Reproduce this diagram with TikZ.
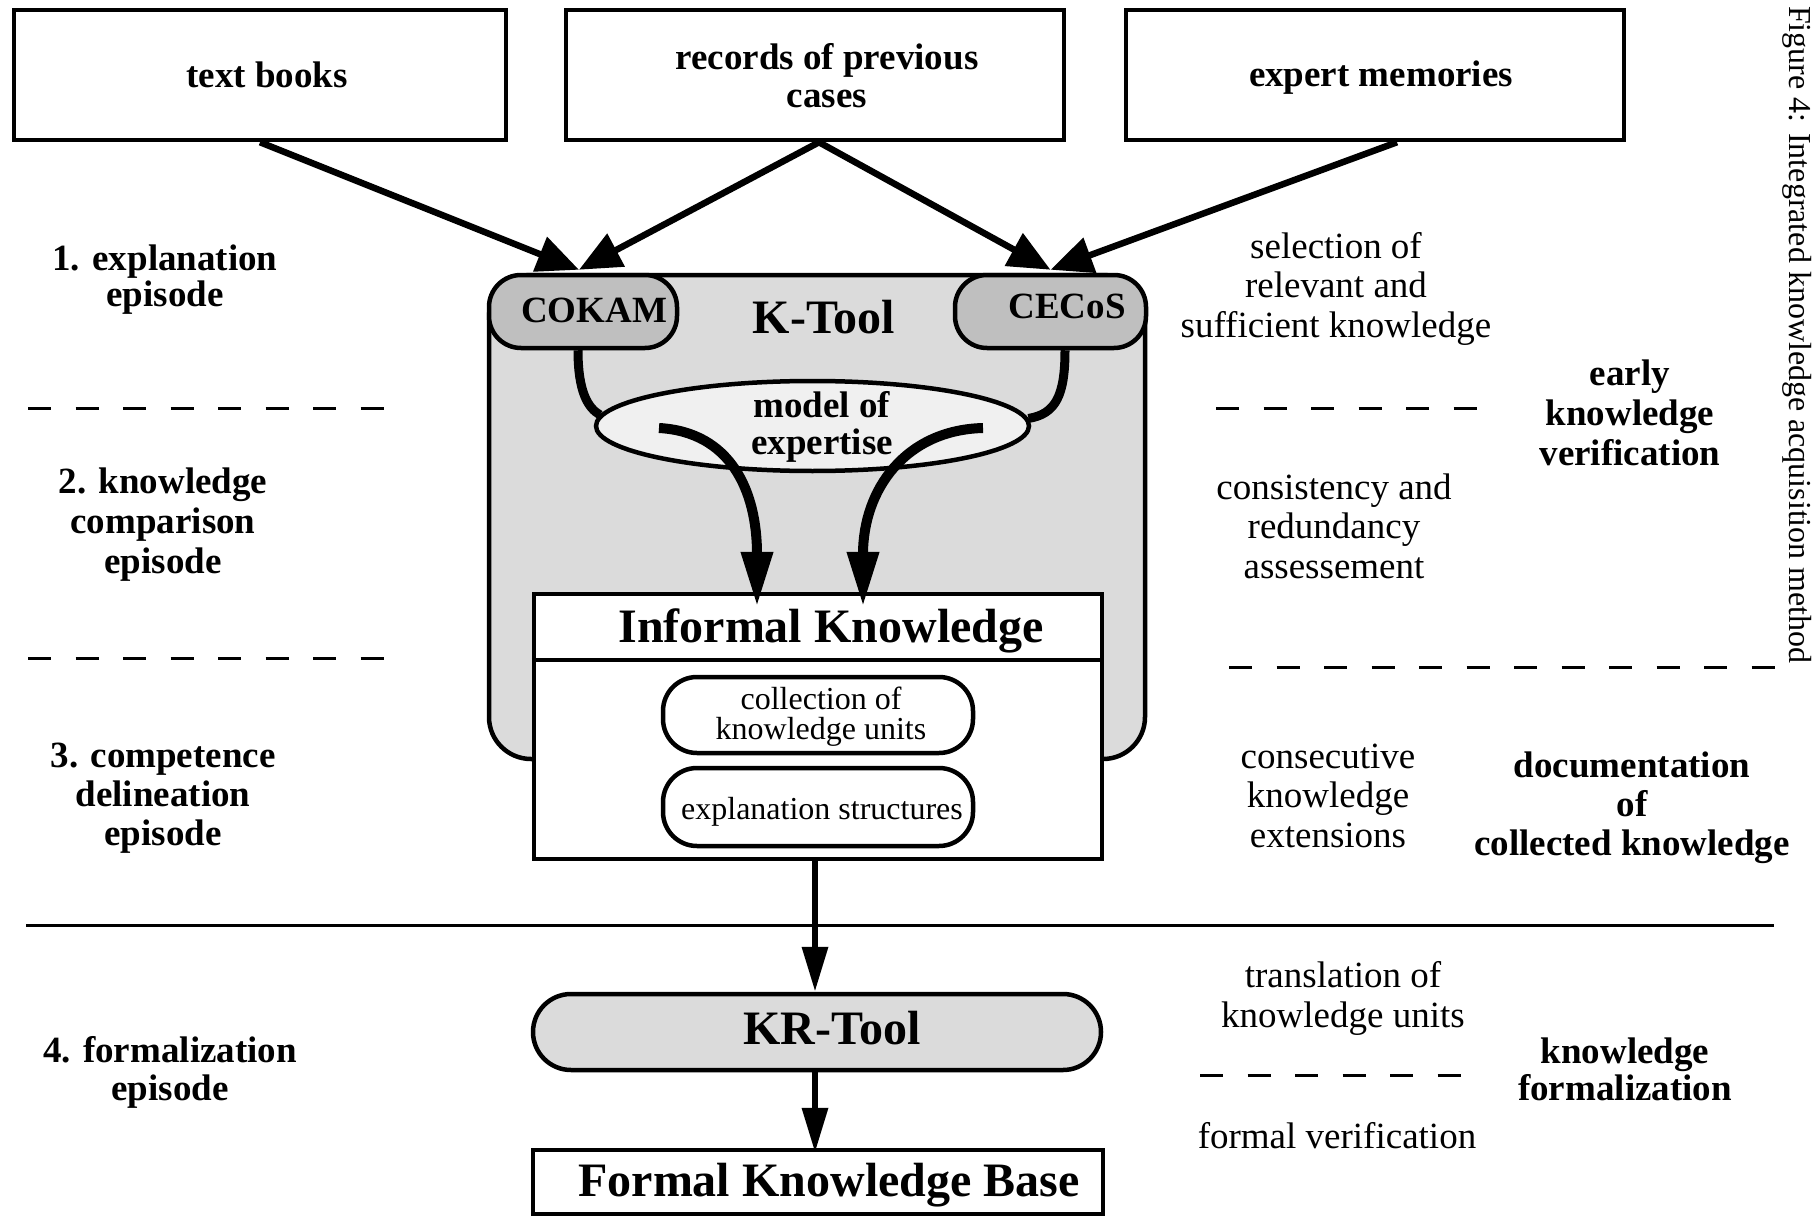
\documentclass[tikz,border=0pt]{standalone}
\usepackage{fontspec}
\setmainfont{Liberation Serif}
\usetikzlibrary{arrows.meta,shapes.geometric}
\definecolor{kgray}{gray}{0.86}
\definecolor{cgray}{gray}{0.75}
\definecolor{egray}{gray}{0.94}
\begin{document}
\begin{tikzpicture}[x=1pt,y=1pt,
  frame/.style={draw, line width=4.5pt, inner sep=0pt},
  bt/.style={font=\fontsize{37}{39}\selectfont\bfseries, align=center, inner sep=0pt, anchor=base},
  rt/.style={font=\fontsize{37}{39.5}\selectfont, align=center, inner sep=0pt, anchor=base},
  ht/.style={font=\fontsize{48}{50}\selectfont\bfseries, inner sep=0pt, anchor=base},
  st/.style={font=\fontsize{32}{30}\selectfont, align=center, inner sep=0pt, anchor=base},
  dline/.style={line width=3pt, dash pattern=on 23pt off 24.5pt},
  topar/.style={line width=6.5pt, -{Triangle[length=42pt,width=36pt]}},
  midar/.style={line width=10pt, -{Triangle[length=55pt,width=30pt]}},
  lowar/.style={line width=6.5pt, -{Triangle[length=45pt,width=25pt]}},
  link/.style={line width=9pt},
]
\useasboundingbox (0,0) rectangle (1818,-1217);

% ---------- K-Tool container ----------
\node[frame, fill=kgray, rounded corners=42pt, minimum width=656pt, minimum height=484pt] (ktool) at (817,-517) {};
\node[frame, fill=cgray, rounded corners=32pt, minimum width=188pt, minimum height=73pt] (cokam) at (583,-311.5) {};
\node[frame, fill=cgray, rounded corners=32pt, minimum width=191pt, minimum height=73pt] (cecos) at (1050.5,-311.5) {};
\node[bt] (cokamlabel) at (594,-322) {COKAM};
\node[bt] (cecoslabel) at (1067,-318) {CECoS};
\node[ht] (ktoollabel) at (824,-333) {K-Tool};

% model of expertise and links into it
\node[draw, line width=4.5pt, ellipse, fill=egray, inner sep=0pt, minimum width=433pt, minimum height=90pt] (mod) at (812.5,-426) {};
\draw[link] ([xshift=-5pt]cokam.south) .. controls (578,-392) and (588,-408) .. (mod.177);
\draw[link] ([xshift=14.5pt]cecos.south) .. controls (1065,-395) and (1056,-414) .. (mod.2);
\node[bt] (modlabel) at (822,-454) {model of\\[-2pt]expertise};

% ---------- Informal Knowledge ----------
\node[frame, fill=white, minimum width=568pt, minimum height=265pt] (ik) at (818,-726.5) {};
\draw[line width=4.5pt] (ik.north west) ++(0,-68) coordinate (divl) -- (divl -| ik.east);
\node[ht] (iklabel) at (831,-642) {Informal Knowledge};
\node[frame, rounded corners=34pt, minimum width=310pt, minimum height=76pt] (coll) at (818,-715) {};
\node[st] (colllabel) at (821,-739) {collection of\\knowledge units};
\node[frame, rounded corners=34pt, minimum width=310pt, minimum height=78pt] (expl) at (818,-807) {};
\node[st] (expllabel) at (822,-819) {explanation structures};

\coordinate (m1) at (659,-428);
\coordinate (m2) at (983,-428);
\draw[midar] (m1) .. controls (730,-432) and (757,-490) .. ([xshift=-61pt,yshift=-15pt]ik.north);
\draw[midar] (m2) .. controls (905,-430) and (863,-490) .. ([xshift=45pt,yshift=-15pt]ik.north);

% ---------- top sources ----------
\node[frame, minimum width=492pt, minimum height=130pt] (tb) at (260,-75) {};
\node[bt] (tblabel) at (267,-88) {text books};
\node[frame, minimum width=498pt, minimum height=130pt] (rec) at (815,-75) {};
\node[bt, font=\fontsize{37}{38}\selectfont\bfseries] (reclabel) at (827,-108) {records of previous\\cases};
\node[frame, minimum width=498pt, minimum height=130pt] (exp) at (1375,-75) {};
\node[bt] (explabel) at (1381,-87) {expert memories};

\draw[topar] (tb.south) -- ([xshift=-4pt,yshift=3pt]cokam.north);
\draw[topar] ([xshift=4pt]rec.south) -- ([xshift=-4pt,yshift=3pt]cokam.north);
\draw[topar] ([xshift=4pt]rec.south) -- ([yshift=3pt]cecos.north);
\draw[topar] ([xshift=22pt]exp.south) -- ([yshift=3pt]cecos.north);

% ---------- formalization ----------
\node[frame, fill=kgray, rounded corners=38pt, minimum width=568pt, minimum height=76pt] (kr) at (817,-1032) {};
\node[ht] (krlabel) at (832,-1044) {KR-Tool};
\node[frame, fill=white, minimum width=570pt, minimum height=64pt] (fkb) at (818,-1182) {};
\node[ht] (fkblabel) at (829,-1196) {Formal Knowledge Base};

\draw[lowar] ([xshift=-3pt]ik.south) -- ([xshift=-2pt]kr.north);
\draw[lowar] ([xshift=-2pt]kr.south) -- ([xshift=-3pt,yshift=-5pt]fkb.north);

% ---------- separators ----------
\draw[dline] (28,-408) -- (388,-408);
\draw[dline] (28,-658) -- (388,-658);
\draw[dline] (1216,-408) -- (1481,-408);
\draw[dline] (1229,-667) -- (1776,-667);
\draw[dline] (1200,-1075) -- (1464,-1075);
\draw[line width=3pt] (26,-925) -- (1774,-925);

% ---------- left: episodes ----------
\node[bt] (ep1) at (165,-306) {1. explanation\\[-3pt]episode};
\node[bt, font=\fontsize{37}{40}\selectfont\bfseries] (ep2) at (163,-573) {2. knowledge\\comparison\\episode};
\node[bt] (ep3) at (163,-845) {3. competence\\delineation\\episode};
\node[bt, font=\fontsize{37}{38}\selectfont\bfseries] (ep4) at (170,-1100) {4. formalization\\episode};

% ---------- right: activities ----------
\node[rt] (act1) at (1336,-337) {selection of\\relevant and\\sufficient knowledge};
\node[rt] (act2) at (1334,-578) {consistency and\\redundancy\\assessement};
\node[rt] (act3) at (1328,-847) {consecutive\\knowledge\\extensions};
\node[rt] (act4) at (1343,-1027) {translation of\\knowledge units};
\node[rt] (act5) at (1337,-1148) {formal verification};

% ---------- far right: phases ----------
\node[bt, font=\fontsize{37}{40}\selectfont\bfseries] (ph1) at (1630,-465) {early\\knowledge\\verification};
\node[bt] (ph2) at (1632,-855) {documentation\\of\\collected knowledge};
\node[bt, font=\fontsize{37}{37}\selectfont\bfseries] (ph3) at (1625,-1100) {knowledge\\formalization};

% ---------- caption ----------
\node[font=\fontsize{32}{32}\selectfont, rotate=-90, inner sep=0pt] (cap) at (1797,-335) {Figure 4: Integrated knowledge acquisition method};
\end{tikzpicture}
\end{document}
